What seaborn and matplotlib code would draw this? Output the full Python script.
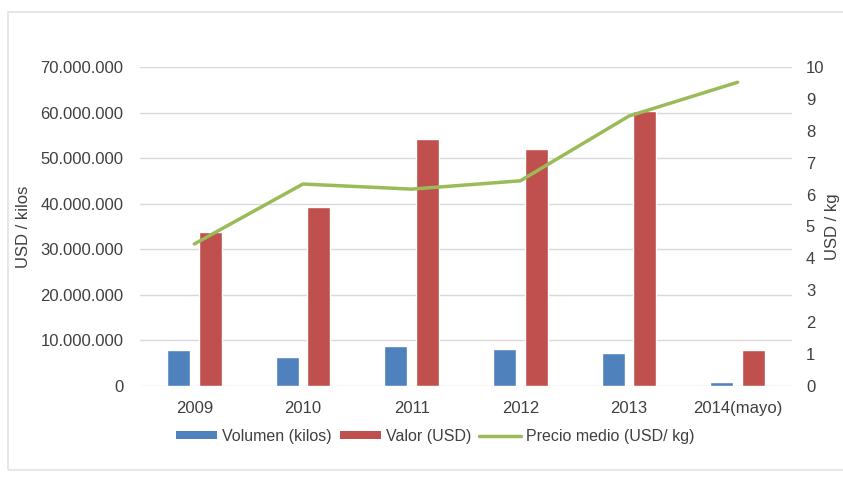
import matplotlib
matplotlib.use("Agg")
import matplotlib.pyplot as plt
from matplotlib.patches import Patch, Rectangle
from matplotlib.lines import Line2D
from matplotlib.ticker import FuncFormatter, MultipleLocator
import seaborn as sns
import pandas as pd

# Export series by year
years = ["2009", "2010", "2011", "2012", "2013", "2014(mayo)"]
volumen_kilos = [7_900_000, 6_300_000, 8_750_000, 8_100_000, 7_200_000, 840_000]
valor_usd = [33_700_000, 39_300_000, 54_200_000, 52_000_000, 60_300_000, 8_000_000]
precio_medio = [4.45, 6.33, 6.17, 6.43, 8.46, 9.52]

series_names = ["Volumen (kilos)", "Valor (USD)", "Precio medio (USD/ kg)"]
colors = ["#4F81BD", "#C0504D", "#9BBB59"]

sns.set_theme(style="white")
plt.rcParams["font.family"] = ["Liberation Sans", "DejaVu Sans"]
text_color = "#404040"

bars = pd.DataFrame({
    "year": years * 2,
    "value": volumen_kilos + valor_usd,
    "series": [series_names[0]] * len(years) + [series_names[1]] * len(years),
})

fig = plt.figure(figsize=(8.43, 4.78), dpi=100)
ax = fig.add_axes([0.166, 0.1925, 0.7735, 0.6675])

sns.barplot(data=bars, x="year", y="value", hue="series", order=years,
            hue_order=series_names[:2], palette=colors[:2], width=0.58,
            gap=0.27, saturation=1, ax=ax, legend=False)

ax.set_ylim(0, 70_000_000)
ax.yaxis.set_major_locator(MultipleLocator(10_000_000))
ax.yaxis.set_major_formatter(FuncFormatter(lambda v, p: f"{int(v):,}".replace(",", ".")))
ax.grid(axis="y", color="#d9d9d9", linewidth=1)
ax.set_axisbelow(True)
for s in ax.spines.values():
    s.set_visible(False)
ax.tick_params(axis="both", length=0, labelsize=12, colors=text_color)
ax.tick_params(axis="y", pad=12)
ax.tick_params(axis="x", pad=11)
ax.set_xlabel("")
ax.set_ylabel("USD / kilos", fontsize=12, color=text_color)
ax.yaxis.set_label_coords(-0.167, 0.5)

ax2 = ax.twinx()
sns.pointplot(x=years, y=precio_medio, order=years, color=colors[2],
              markers="", linewidth=2.5, ax=ax2)
ax2.set_ylim(0, 10)
ax2.yaxis.set_major_locator(MultipleLocator(1))
for s in ax2.spines.values():
    s.set_visible(False)
ax2.tick_params(axis="y", length=0, labelsize=12, colors=text_color, pad=10)
ax2.grid(False)
ax2.set_ylabel("USD / kg", fontsize=12, color=text_color)
ax2.yaxis.set_label_coords(1.051, 0.5)
ax.set_xlim(-0.5, len(years) - 0.5)

handles = [
    Patch(facecolor=colors[0], edgecolor="none"),
    Patch(facecolor=colors[1], edgecolor="none"),
    Line2D([0], [0], color=colors[2], linewidth=2.5),
]
fig.legend(handles, series_names, loc="center", bbox_to_anchor=(0.516, 1 - 436 / 478),
           ncol=3, frameon=False, fontsize=11.5, handlelength=2.6, handleheight=0.45,
           handletextpad=0.3, columnspacing=0.5, labelcolor=text_color)

# light frame around the chart area (open on the right edge)
fig.patches.append(Rectangle((8 / 843, 1 - 470 / 478), 1.0, 458 / 478,
                             transform=fig.transFigure, fill=False,
                             edgecolor="#e3e3e3", linewidth=1.2))

fig.savefig("out.png", dpi=100, facecolor="white")
